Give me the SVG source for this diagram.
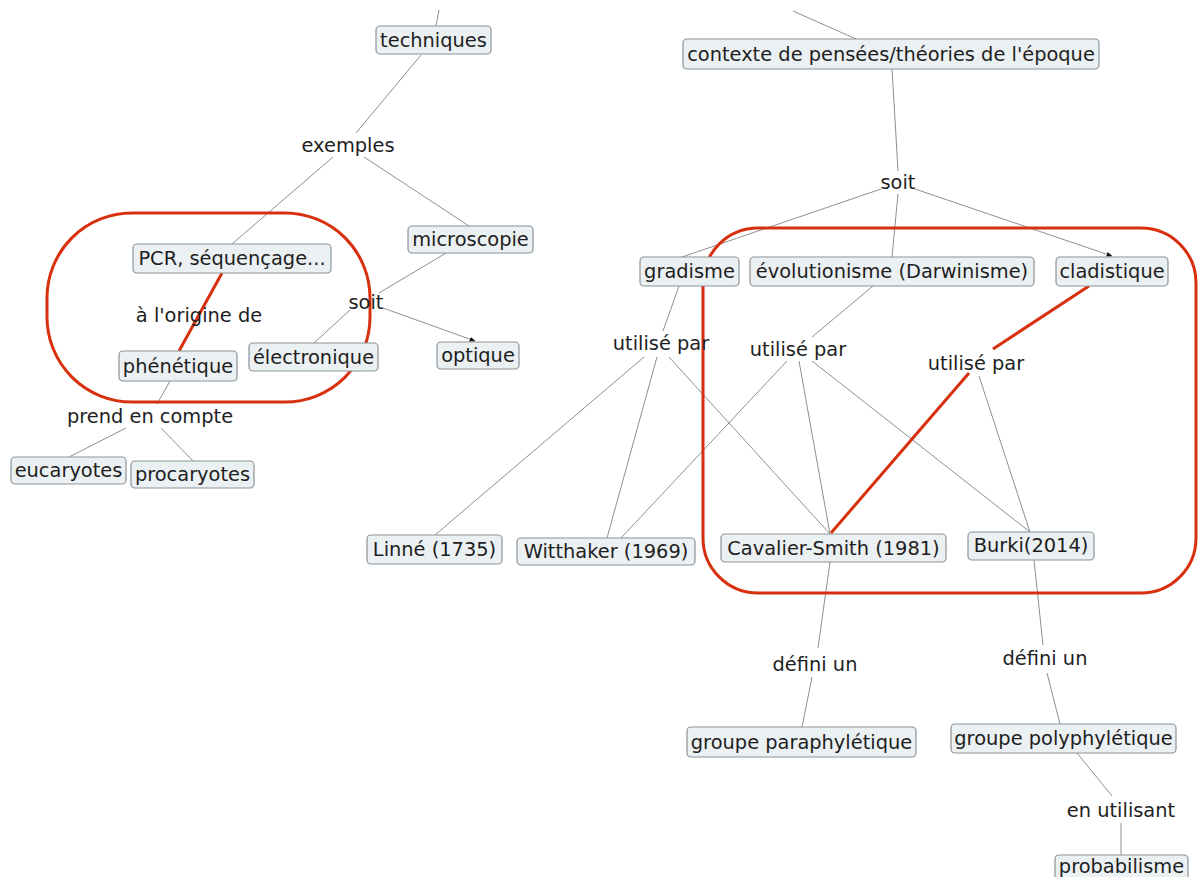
<svg xmlns="http://www.w3.org/2000/svg" width="1199" height="877" viewBox="0 0 1199 877">
<style>
.n rect{fill:#ebf0f3;stroke:#8c939a;stroke-width:1.2}
text{font-family:"DejaVu Sans",Verdana,sans-serif;font-size:19.4px;fill:#1e1e1e;text-anchor:middle;dominant-baseline:central}
.c line{stroke:#8f8f8f;stroke-width:1}
.c line.r,.r{stroke:#d8300e;stroke-width:3;fill:none}
</style>
<defs>
<marker id="ah" viewBox="0 0 10 10" refX="9" refY="5" markerWidth="6" markerHeight="6" orient="auto"><path d="M0,1 L10,5 L0,9 z" fill="#111"/></marker>
</defs>
<rect width="1199" height="877" fill="#fff"/>
<g id="connectors" class="c">
<line x1="439" y1="10" x2="436" y2="26"/>
<line x1="421" y1="55" x2="356" y2="133"/>
<line x1="333" y1="157" x2="232" y2="244"/>
<line x1="364" y1="157" x2="469" y2="226"/>
<line x1="446" y1="253" x2="379" y2="293"/>
<line x1="350" y1="310" x2="314" y2="343"/>
<line x1="383" y1="308" x2="475" y2="341" marker-end="url(#ah)"/>
<line x1="170" y1="381" x2="157" y2="404"/>
<line x1="126" y1="428" x2="69" y2="457"/>
<line x1="161" y1="428" x2="193" y2="461"/>
<line x1="793" y1="11" x2="856" y2="39"/>
<line x1="892" y1="68" x2="898" y2="171"/>
<line x1="881" y1="189" x2="682" y2="257"/>
<line x1="898" y1="194" x2="892" y2="257"/>
<line x1="915" y1="189" x2="1112" y2="256" marker-end="url(#ah)"/>
<line x1="679" y1="286" x2="663" y2="331"/>
<line x1="873" y1="286" x2="812" y2="337"/>
<line x1="644" y1="357" x2="435" y2="535"/>
<line x1="657" y1="357" x2="607" y2="538"/>
<line x1="669" y1="357" x2="830" y2="534"/>
<line x1="787" y1="361" x2="621" y2="538"/>
<line x1="799" y1="361" x2="830" y2="534"/>
<line x1="812" y1="361" x2="1030" y2="532"/>
<line x1="979" y1="376" x2="1030" y2="532"/>
<line x1="830" y1="562" x2="818" y2="648"/>
<line x1="812" y1="677" x2="802" y2="727"/>
<line x1="1034" y1="560" x2="1043" y2="645"/>
<line x1="1047" y1="673" x2="1060" y2="724"/>
<line x1="1077" y1="753" x2="1112" y2="796"/>
<line x1="1121" y1="823" x2="1121" y2="855"/>
<line class="r" x1="222" y1="273" x2="179" y2="351"/>
<line class="r" x1="1089" y1="286" x2="993" y2="349"/>
<line class="r" x1="969" y1="373" x2="831" y2="533"/>
</g>
<g id="annotations">
<rect class="r" x="47" y="213" width="323" height="189" rx="85" ry="85"/>
<rect class="r" x="703" y="228" width="493" height="365" rx="55" ry="55"/>
</g>
<g id="labels">
<text x="348" y="145">exemples</text>
<text x="366" y="302">soit</text>
<text x="199" y="315">à l'origine de</text>
<text x="150" y="416">prend en compte</text>
<text x="898" y="182">soit</text>
<text x="661" y="343">utilisé par</text>
<text x="798" y="349">utilisé par</text>
<text x="976" y="363">utilisé par</text>
<text x="815" y="664">défini un</text>
<text x="1045" y="658">défini un</text>
<text x="1121" y="810">en utilisant</text>
</g>
<g id="n-techniques" class="n"><rect x="376" y="26" width="115" height="28" rx="4"/><text x="433.5" y="40">techniques</text></g>
<g id="n-pcr" class="n"><rect x="133" y="244" width="198" height="29" rx="4"/><text x="232" y="258.5">PCR, séquençage...</text></g>
<g id="n-microscopie" class="n"><rect x="408" y="226" width="125" height="27" rx="4"/><text x="470.5" y="239.5">microscopie</text></g>
<g id="n-phenetique" class="n"><rect x="119" y="351" width="118" height="30" rx="4"/><text x="178" y="366">phénétique</text></g>
<g id="n-electronique" class="n"><rect x="249" y="343" width="129" height="28" rx="4"/><text x="313.5" y="357">électronique</text></g>
<g id="n-optique" class="n"><rect x="437" y="342" width="82" height="27" rx="4"/><text x="478" y="355.5">optique</text></g>
<g id="n-eucaryotes" class="n"><rect x="11" y="457" width="115" height="27" rx="4"/><text x="68.5" y="470.5">eucaryotes</text></g>
<g id="n-procaryotes" class="n"><rect x="131" y="461" width="123" height="27" rx="4"/><text x="192.5" y="474.5">procaryotes</text></g>
<g id="n-linne" class="n"><rect x="367" y="535" width="135" height="29" rx="4"/><text x="434.5" y="549.5">Linné (1735)</text></g>
<g id="n-witthaker" class="n"><rect x="517" y="538" width="178" height="27" rx="4"/><text x="606" y="551.5">Witthaker (1969)</text></g>
<g id="n-cavalier" class="n"><rect x="721" y="534" width="225" height="28" rx="4"/><text x="833.5" y="548">Cavalier-Smith (1981)</text></g>
<g id="n-burki" class="n"><rect x="968" y="532" width="126" height="28" rx="4"/><text x="1031" y="545.5">Burki(2014)</text></g>
<g id="n-contexte" class="n"><rect x="683" y="39" width="416" height="30" rx="4"/><text x="891" y="54">contexte de pensées/théories de l'époque</text></g>
<g id="n-gradisme" class="n"><rect x="640" y="257" width="99" height="29" rx="4"/><text x="689.5" y="271.5">gradisme</text></g>
<g id="n-evolutionisme" class="n"><rect x="750" y="257" width="284" height="29" rx="4"/><text x="892" y="271.5">évolutionisme (Darwinisme)</text></g>
<g id="n-cladistique" class="n"><rect x="1056" y="257" width="112" height="29" rx="4"/><text x="1112" y="271.5">cladistique</text></g>
<g id="n-paraphyletique" class="n"><rect x="687" y="727" width="229" height="30" rx="4"/><text x="801.5" y="742">groupe paraphylétique</text></g>
<g id="n-polyphyletique" class="n"><rect x="951" y="724" width="225" height="29" rx="4"/><text x="1063.5" y="738.5">groupe polyphylétique</text></g>
<g id="n-probabilisme" class="n"><rect x="1055" y="855" width="133" height="30" rx="4"/><text x="1121.5" y="866">probabilisme</text></g>
</svg>
